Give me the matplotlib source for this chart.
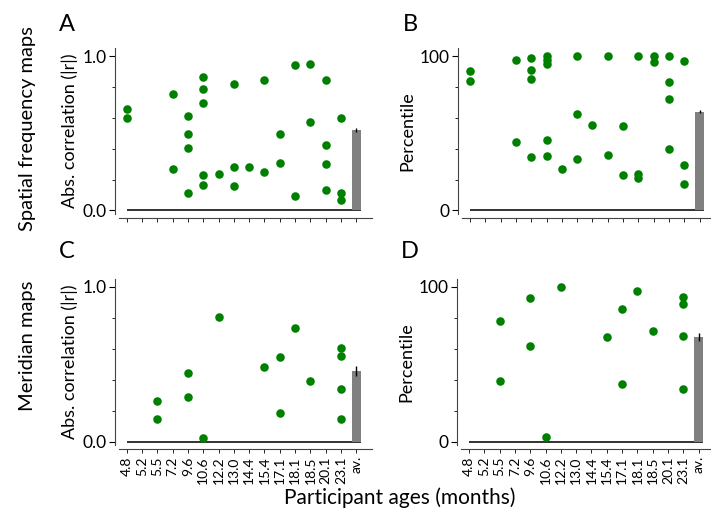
import numpy as np
import matplotlib
matplotlib.use('Agg')
import matplotlib.pyplot as plt
from matplotlib.ticker import MultipleLocator

plt.rcParams['font.family'] = ['Lato', 'DejaVu Sans']

# --- DATA ---
ages = ['4.8', '5.2', '5.5', '7.2', '9.6', '10.6', '12.2', '13.0',
        '14.4', '15.4', '17.1', '18.1', '18.5', '20.1', '23.1']
tick_labels = ages + ['av.']

# Panel A: spatial frequency maps, abs. correlation (category index, value)
sf_corr_idx = [0, 0, 3, 3, 4, 4, 4, 4, 5, 5, 5, 5, 5, 6, 7, 7, 7, 8, 9, 9,
               10, 10, 11, 11, 12, 12, 13, 13, 13, 13, 14, 14, 14]
sf_corr_val = [0.657, 0.597, 0.756, 0.265, 0.614, 0.498, 0.405, 0.116,
               0.864, 0.784, 0.694, 0.231, 0.164, 0.233, 0.819, 0.278, 0.155,
               0.278, 0.847, 0.252, 0.494, 0.304, 0.944, 0.091, 0.948, 0.571,
               0.847, 0.422, 0.302, 0.131, 0.597, 0.116, 0.069]
sf_corr_mean, sf_corr_err = 0.52, 0.012

# Panel B: spatial frequency maps, percentile
sf_pct_idx = [0, 0, 3, 3, 4, 4, 4, 4, 5, 5, 5, 5, 5, 6, 7, 7, 7, 8, 9, 9,
              10, 10, 11, 11, 11, 12, 12, 13, 13, 13, 13, 14, 14, 14]
sf_pct_val = [90.1, 83.6, 97.4, 44.0, 98.9, 90.7, 85.1, 34.3,
              100.0, 97.6, 94.6, 45.9, 35.1, 26.9, 100.0, 62.5, 33.2,
              55.0, 100.0, 35.8, 54.5, 23.1, 100.0, 23.9, 21.3, 100.0, 96.3,
              100.0, 83.4, 72.0, 39.9, 96.6, 29.1, 16.8]
sf_pct_mean, sf_pct_err = 63.8, 1.0

# Panel C: meridian maps, abs. correlation
mer_corr_idx = [2, 2, 4, 4, 5, 6, 9, 10, 10, 11, 12, 14, 14, 14, 14]
mer_corr_val = [0.266, 0.150, 0.442, 0.292, 0.028, 0.803, 0.485, 0.547,
                0.189, 0.736, 0.395, 0.605, 0.556, 0.341, 0.148]
mer_corr_mean, mer_corr_err = 0.457, 0.034

# Panel D: meridian maps, percentile
mer_pct_idx = [2, 2, 4, 4, 5, 6, 9, 10, 10, 11, 12, 14, 14, 14, 14]
mer_pct_val = [77.8, 39.1, 93.1, 61.7, 3.2, 100.0, 67.7, 85.8, 37.2, 97.6,
               71.4, 93.8, 89.2, 68.4, 34.2]
mer_pct_mean, mer_pct_err = 67.5, 2.6

GREEN = '#008000'
GREY = '#808080'

fig = plt.figure(figsize=(7.11, 5.14), dpi=100)
W, H = 711.0, 514.0


def make_ax(left, top, bottom, width=252.7):
    return fig.add_axes([left / W, 1 - bottom / H, width / W, (bottom - top) / H])


def draw_panel(ax, idx, vals, mean, err, scale, ylabel, show_labels):
    n = len(tick_labels)
    ax.hlines(0, 0, n - 1 + 0.3, color='#222222', lw=1.3, zorder=1)
    ax.bar(n - 1, mean, width=0.6, color=GREY, zorder=2)
    ax.errorbar(n - 1, mean, yerr=err, color='black', lw=1.0, capsize=0, zorder=3)
    ax.scatter(idx, vals, s=38, color=GREEN, zorder=4, linewidths=0)
    ax.set_xlim(-0.5, 16)
    ax.set_ylim(-0.02 * scale, 1.05 * scale)
    ax.set_xticks(range(n))
    ax.tick_params(axis='y', which='major', length=4, width=0.8, pad=2,
                   labelsize=12.5)
    ax.tick_params(axis='y', which='minor', length=2.5, width=0.6)
    ax.tick_params(axis='x', length=3, width=0.6, pad=2, labelsize=10,
                   labelrotation=90)
    if show_labels:
        ax.set_xticklabels(tick_labels)
    else:
        ax.set_xticklabels([])
    ax.set_yticks([0, scale])
    if scale == 1:
        ax.set_yticklabels(['0.0', '1.0'])
    else:
        ax.set_yticklabels(['0', '100'])
    ax.yaxis.set_minor_locator(MultipleLocator(0.2 * scale))
    for s in ['top', 'right']:
        ax.spines[s].set_visible(False)
    for s in ['left', 'bottom']:
        ax.spines[s].set_position(('outward', 3))
        ax.spines[s].set_linewidth(0.8)
        ax.spines[s].set_color('#444444')
    ax.set_ylabel(ylabel, fontsize=13, labelpad=3)


axA = make_ax(119, 48.3, 213.5)
axB = make_ax(462.3, 48.3, 213.5)
axC = make_ax(119, 278.9, 445.1)
axD = make_ax(461.3, 279.2, 445.1)

draw_panel(axA, sf_corr_idx, sf_corr_val, sf_corr_mean, sf_corr_err, 1,
           'Abs. correlation (|r|)', False)
draw_panel(axB, sf_pct_idx, sf_pct_val, sf_pct_mean, sf_pct_err, 100,
           'Percentile', False)
draw_panel(axC, mer_corr_idx, mer_corr_val, mer_corr_mean, mer_corr_err, 1,
           'Abs. correlation (|r|)', True)
draw_panel(axD, mer_pct_idx, mer_pct_val, mer_pct_mean, mer_pct_err, 100,
           'Percentile', True)

# panel letters
for letter, x, y in [('A', 67, 24), ('B', 410, 24), ('C', 67, 252), ('D', 410, 252)]:
    fig.text(x / W, 1 - y / H, letter, fontsize=17, ha='center', va='center')

# row labels
fig.text(28 / W, 1 - 129 / H, 'Spatial frequency maps', fontsize=14.5,
         rotation=90, ha='center', va='center')
fig.text(28 / W, 1 - 346 / H, 'Meridian maps', fontsize=14.5,
         rotation=90, ha='center', va='center')

fig.text(400 / W, 1 - 498 / H, 'Participant ages (months)', fontsize=15,
         ha='center', va='center')

fig.savefig('out.png', dpi=100)
